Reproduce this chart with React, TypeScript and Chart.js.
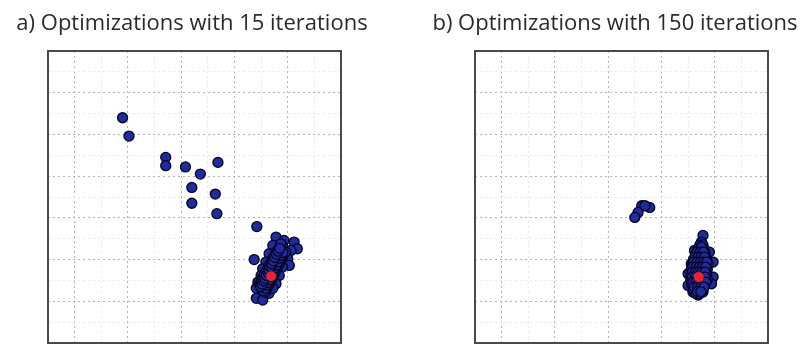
import React, { useEffect, useRef } from "react";
import { Chart, registerables } from "chart.js";

Chart.register(...registerables);

// ---- data ----
const titleA = "a) Optimizations with 15 iterations";
const titleB = "b) Optimizations with 150 iterations";

const majorXTicks = [0, 1, 2, 3, 4];
const minorXTicks = [0.5, 1.5, 2.5, 3.5, 4.5];
const majorYTicks = [1, 2, 3, 4, 5, 6];
const minorYTicks = [0.5, 1.5, 2.5, 3.5, 4.5, 5.5, 6.5];

// 15 iterations: final points of each optimization run
const runs15X = [
  0.9, 1.02, 1.71, 1.71, 2.08, 2.36, 2.69, 2.2, 2.2, 2.64, 2.67, 3.42, 3.37,
  3.78, 3.93, 4.12, 4.18, 4.06, 3.84, 3.72, 3.65, 3.78, 4.0, 4.03, 3.9, 3.59,
  3.53, 3.5, 3.84, 3.78, 3.59, 3.44, 3.41, 3.53, 3.65, 3.41, 3.53, 3.72,
  3.52, 3.55, 3.58, 3.6, 3.63, 3.66, 3.68, 3.71, 3.73, 3.76, 3.79, 3.82, 3.85, 3.88, 3.91,
  3.58, 3.61, 3.64, 3.67, 3.7, 3.73, 3.76, 3.79, 3.82, 3.85, 3.88, 3.92, 3.96,
  3.47, 3.5, 3.53, 3.56, 3.6, 3.63, 3.66, 3.7, 3.73, 3.76, 3.8, 3.84, 3.87,
  3.55, 3.58, 3.61, 3.63, 3.66, 3.69, 3.71, 3.74, 3.76, 3.79, 3.82, 3.85, 3.88, 3.91,
  3.49, 3.52, 3.55, 3.57, 3.6, 3.63, 3.65, 3.68, 3.7, 3.73, 3.76, 3.79, 3.82, 3.85,
];
const runs15Y = [
  5.4, 4.96, 4.45, 4.25, 4.22, 4.05, 4.33, 3.73, 3.35, 3.57, 3.1, 2.79, 2.0,
  2.54, 2.46, 2.42, 2.26, 2.22, 2.3, 2.34, 2.14, 2.06, 2.02, 1.86, 1.82, 1.94,
  1.78, 1.62, 1.62, 1.42, 1.38, 1.46, 1.31, 1.22, 1.19, 1.07, 1.03, 1.31,
  1.3, 1.36, 1.44, 1.5, 1.57, 1.64, 1.7, 1.78, 1.85, 1.92, 2.0, 2.08, 2.15, 2.22, 2.3,
  1.22, 1.3, 1.38, 1.46, 1.53, 1.61, 1.69, 1.77, 1.85, 1.93, 2.01, 2.1, 2.18,
  1.4, 1.48, 1.56, 1.64, 1.72, 1.8, 1.88, 1.96, 2.04, 2.12, 2.2, 2.28, 2.38,
  1.25, 1.31, 1.39, 1.45, 1.52, 1.59, 1.65, 1.73, 1.8, 1.87, 1.95, 2.03, 2.1, 2.17,
  1.35, 1.41, 1.49, 1.55, 1.62, 1.69, 1.75, 1.83, 1.9, 1.97, 2.05, 2.13, 2.2, 2.27,
];
const optimum15X = [3.69];
const optimum15Y = [1.6];

// 150 iterations
const runs150X = [
  2.63, 2.78, 2.69, 2.56, 2.5,
  3.78, 3.75, 3.62, 3.9, 3.97, 3.56, 3.5, 3.97, 3.94, 3.5, 3.59, 3.69, 3.78,
  3.72, 3.78,
  3.68, 3.74, 3.8,
  3.64, 3.7, 3.76, 3.82,
  3.6, 3.66, 3.72, 3.78, 3.85,
  3.58, 3.64, 3.7, 3.76, 3.82, 3.88,
  3.56, 3.62, 3.68, 3.74, 3.8, 3.86,
  3.55, 3.61, 3.67, 3.73, 3.79, 3.85,
  3.55, 3.61, 3.67, 3.73, 3.79, 3.86,
  3.57, 3.63, 3.69, 3.75, 3.81,
  3.6, 3.66, 3.72, 3.78,
  3.65, 3.71,
  3.75,
  3.67, 3.73, 3.79,
  3.63, 3.69, 3.75, 3.81,
  3.61, 3.67, 3.73, 3.79, 3.85,
  3.59, 3.65, 3.71, 3.77, 3.83,
  3.58, 3.64, 3.7, 3.76, 3.82,
  3.58, 3.64, 3.76, 3.82,
  3.59, 3.65, 3.71, 3.77, 3.83,
  3.62, 3.68, 3.74, 3.8,
  3.68, 3.74,
];
const runs150Y = [
  3.29, 3.25, 3.29, 3.13, 3.01,
  2.58, 2.42, 2.22, 2.18, 1.94, 1.9, 1.66, 1.58, 1.42, 1.38, 1.22, 1.15, 1.22,
  2.35, 2.35,
  2.25, 2.25, 2.25,
  2.12, 2.12, 2.12, 2.12,
  2.0, 2.0, 2.0, 2.0, 2.0,
  1.88, 1.88, 1.88, 1.88, 1.88, 1.88,
  1.76, 1.76, 1.76, 1.76, 1.76, 1.76,
  1.64, 1.64, 1.64, 1.64, 1.64, 1.64,
  1.52, 1.52, 1.52, 1.52, 1.52, 1.52,
  1.4, 1.4, 1.4, 1.4, 1.4,
  1.28, 1.28, 1.28, 1.28,
  1.18, 1.18,
  2.3,
  2.18, 2.18, 2.18,
  2.06, 2.06, 2.06, 2.06,
  1.94, 1.94, 1.94, 1.94, 1.94,
  1.82, 1.82, 1.82, 1.82, 1.82,
  1.7, 1.7, 1.7, 1.7, 1.7,
  1.58, 1.58, 1.58, 1.58,
  1.46, 1.46, 1.46, 1.46, 1.46,
  1.34, 1.34, 1.34, 1.34,
  1.23, 1.23,
];
const optimum150X = [3.7];
const optimum150Y = [1.58];

function toPoints(xs: number[], ys: number[]) {
  return xs.map((x, i) => ({ x, y: ys[i] }));
}

type PanelProps = {
  left: number;
  width: number;
  padding: { left: number; right: number; top: number; bottom: number };
  title: string;
  titleX: number;
  runsX: number[];
  runsY: number[];
  optX: number[];
  optY: number[];
};

function Panel(props: PanelProps) {
  const ref = useRef<HTMLCanvasElement | null>(null);
  useEffect(() => {
    if (!ref.current) return;
    const framePlugin = {
      id: "panelFrame",
      afterDraw(chart: any) {
        const { ctx, chartArea } = chart;
        ctx.save();
        ctx.strokeStyle = "#4a4a4a";
        ctx.lineWidth = 2;
        ctx.strokeRect(
          chartArea.left,
          chartArea.top,
          chartArea.right - chartArea.left,
          chartArea.bottom - chartArea.top
        );
        ctx.fillStyle = "#2a2a2a";
        ctx.font = "22px 'Open Sans'";
        ctx.textAlign = "center";
        ctx.textBaseline = "alphabetic";
        ctx.fillText(props.title, props.titleX, 30);
        ctx.restore();
      },
    };
    const gridColor = (c: any) => {
      const v = c.tick ? c.tick.value : 0;
      return Number.isInteger(v) ? "#b4b4b4" : "#e8e8e8";
    };
    const chart = new Chart(ref.current, {
      type: "scatter",
      data: {
        datasets: [
          {
            label: "optimum",
            data: toPoints(props.optX, props.optY),
            pointRadius: 5,
            pointBackgroundColor: "#f0222a",
            pointBorderColor: "#f0222a",
            pointBorderWidth: 0,
          },
          {
            label: "runs",
            data: toPoints(props.runsX, props.runsY),
            pointRadius: 5,
            pointBackgroundColor: "#1f2b9e",
            pointBorderColor: "#03051f",
            pointBorderWidth: 1.3,
          },
        ],
      },
      options: {
        responsive: false,
        animation: false,
        events: [],
        layout: { padding: props.padding, autoPadding: false },
        plugins: {
          legend: { display: false },
          tooltip: { enabled: false },
          title: { display: false },
        },
        scales: {
          x: {
            type: "linear",
            min: -0.5,
            max: 5,
            afterBuildTicks: (s: any) => {
              s.ticks = [...majorXTicks, ...minorXTicks]
                .sort((a, b) => a - b)
                .map((v) => ({ value: v }));
            },
            afterFit: (s: any) => {
              s.height = 0;
            },
            ticks: { display: false },
            border: { display: false, dash: [2, 3] },
            grid: {
              drawTicks: false,
              color: gridColor,
              lineWidth: 1,
            },
          },
          y: {
            type: "linear",
            min: 0,
            max: 7,
            afterBuildTicks: (s: any) => {
              s.ticks = [...majorYTicks, ...minorYTicks]
                .sort((a, b) => a - b)
                .map((v) => ({ value: v }));
            },
            afterFit: (s: any) => {
              s.width = 0;
            },
            ticks: { display: false },
            border: { display: false, dash: [2, 3] },
            grid: {
              drawTicks: false,
              color: gridColor,
              lineWidth: 1,
            },
          },
        },
      },
      plugins: [framePlugin],
    } as any);
    return () => chart.destroy();
  }, []);
  return (
    <canvas
      ref={ref}
      width={props.width}
      height={344}
      style={{
        position: "absolute",
        left: props.left,
        top: 0,
        width: props.width,
        height: 344,
      }}
    />
  );
}

export default function App() {
  return (
    <div
      style={{
        position: "fixed",
        left: 0,
        top: 0,
        width: 805,
        height: 344,
        background: "#ffffff",
        overflow: "hidden",
      }}
    >
      <Panel
        left={0}
        width={400}
        padding={{ left: 48, right: 59, top: 51, bottom: 1 }}
        title={titleA}
        titleX={192}
        runsX={runs15X}
        runsY={runs15Y}
        optX={optimum15X}
        optY={optimum15Y}
      />
      <Panel
        left={400}
        width={405}
        padding={{ left: 75, right: 37, top: 51, bottom: 1 }}
        title={titleB}
        titleX={215}
        runsX={runs150X}
        runsY={runs150Y}
        optX={optimum150X}
        optY={optimum150Y}
      />
    </div>
  );
}
